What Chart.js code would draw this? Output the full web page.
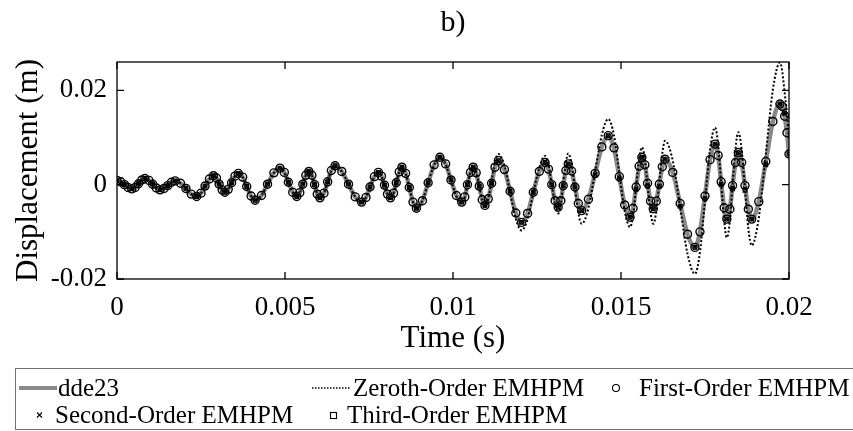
<!DOCTYPE html>
<html>
<head>
<meta charset="utf-8">
<script src="https://cdn.jsdelivr.net/npm/chart.js@4.4.1/dist/chart.umd.min.js"></script>
<style>
  body { margin: 0; background: #fff; }
</style>
</head>
<body>
<canvas id="myChart" width="853" height="431"></canvas>
<script>
const SERIF = "'Liberation Serif', 'Times New Roman', serif";

// time (s), sampled densely along the curves
const time = [
  0, 0.00011, 0.00022, 0.00033, 0.00044, 0.00054, 0.00064, 0.00074, 0.00083, 0.00095,
  0.00106, 0.00117, 0.00128, 0.0014, 0.00151, 0.00162, 0.00173, 0.00189, 0.00205, 0.00221,
  0.00237, 0.0025, 0.00262, 0.00275, 0.00287, 0.00296, 0.00304, 0.00313, 0.00321, 0.00331,
  0.00341, 0.00351, 0.00361, 0.00374, 0.00386, 0.00399, 0.00411, 0.0043, 0.00448, 0.00467,
  0.00485, 0.00498, 0.0051, 0.00523, 0.00535, 0.00544, 0.00553, 0.00562, 0.00571, 0.0058,
  0.00588, 0.00596, 0.00604, 0.00616, 0.00627, 0.00638, 0.00649, 0.00669, 0.00689, 0.00709,
  0.00728, 0.00741, 0.00753, 0.00766, 0.00778, 0.00787, 0.00796, 0.00805, 0.00814, 0.00823,
  0.00831, 0.0084, 0.00848, 0.00859, 0.0087, 0.00881, 0.00891, 0.00909, 0.00926, 0.00944,
  0.00961, 0.00978, 0.00994, 0.0101, 0.01026, 0.01035, 0.01043, 0.01052, 0.0106, 0.01069,
  0.01078, 0.01087, 0.01095, 0.01105, 0.01115, 0.01125, 0.01135, 0.01153, 0.0117, 0.01187,
  0.01204, 0.01222, 0.01239, 0.01257, 0.01274, 0.01284, 0.01294, 0.01304, 0.01313, 0.01321,
  0.01328, 0.01336, 0.01343, 0.01353, 0.01363, 0.01373, 0.01383, 0.01403, 0.01423, 0.01443,
  0.01462, 0.01479, 0.01495, 0.01511, 0.01527, 0.01536, 0.01545, 0.01554, 0.01562, 0.01571,
  0.01579, 0.01588, 0.01596, 0.01605, 0.01614, 0.01623, 0.01631, 0.01654, 0.01676, 0.01698,
  0.0172, 0.01735, 0.0175, 0.01765, 0.0178, 0.01789, 0.01798, 0.01807, 0.01815, 0.01824,
  0.01832, 0.01841, 0.01849, 0.01859, 0.01869, 0.01879, 0.01889, 0.0191, 0.01931, 0.01952,
  0.01973, 0.0198, 0.01987, 0.01994, 0.02
];

// displacement (m)
const dde23 = [
  0.0009, 0.0006, 0.0, -0.0006, -0.0009, -0.0006, 0.0002, 0.001, 0.0013, 0.0009,
  0.0001, -0.0007, -0.0011, -0.0008, -0.0002, 0.0005, 0.0008, 0.0003, -0.0008, -0.002,
  -0.0025, -0.0018, -0.0003, 0.0012, 0.0019, 0.0014, 0.0001, -0.0011, -0.0016, -0.001,
  0.0004, 0.0018, 0.0024, 0.0016, -0.0004, -0.0024, -0.0033, -0.0023, 0.0001, 0.0025,
  0.0035, 0.0026, 0.0005, -0.0016, -0.0025, -0.0017, 0.0001, 0.002, 0.0028, 0.002,
  0.0, -0.002, -0.0028, -0.0018, 0.0006, 0.003, 0.004, 0.0028, 0.0001, -0.0026,
  -0.0037, -0.0027, -0.0005, 0.0017, 0.0026, 0.0018, -0.0001, -0.002, -0.0028, -0.0018,
  0.0004, 0.0027, 0.0037, 0.0024, -0.0006, -0.0037, -0.005, -0.0034, 0.0004, 0.0042,
  0.0058, 0.0044, 0.001, -0.0023, -0.0037, -0.0026, 0.0, 0.0026, 0.0037, 0.0025,
  -0.0003, -0.0032, -0.0044, -0.003, 0.0003, 0.0037, 0.0051, 0.0032, -0.0014, -0.006,
  -0.008, -0.0061, -0.0016, 0.0028, 0.0047, 0.0033, 0.0, -0.0034, -0.0048, -0.0034,
  -0.0002, 0.003, 0.0044, 0.0029, -0.0005, -0.004, -0.0055, -0.0031, 0.0024, 0.008,
  0.0104, 0.0078, 0.0017, -0.0043, -0.0069, -0.005, -0.0005, 0.0039, 0.0058, 0.0042,
  0.0003, -0.0035, -0.0051, -0.0035, 0.0001, 0.0038, 0.0054, 0.0026, -0.004, -0.0105,
  -0.0133, -0.01, -0.0024, 0.0053, 0.0086, 0.0062, 0.0006, -0.0049, -0.0073, -0.0052,
  -0.0002, 0.0047, 0.0068, 0.0047, -0.0002, -0.0052, -0.0073, -0.0036, 0.0049, 0.0134,
  0.0171, 0.0166, 0.0145, 0.011, 0.0065
];

const zerothOrder = [
  0.0009, 0.0006, 0.0, -0.0006, -0.0009, -0.0006, 0.0002, 0.001, 0.0013, 0.0009,
  0.0001, -0.0007, -0.0011, -0.0008, -0.0002, 0.0005, 0.0008, 0.0003, -0.0008, -0.002,
  -0.0025, -0.0018, -0.0003, 0.0012, 0.0019, 0.0014, 0.0001, -0.0011, -0.0016, -0.001,
  0.0004, 0.0018, 0.0024, 0.0016, -0.0004, -0.0024, -0.0033, -0.0023, 0.0001, 0.0025,
  0.0035, 0.0026, 0.0005, -0.0016, -0.0025, -0.0017, 0.0001, 0.002, 0.0028, 0.002,
  0.0, -0.002, -0.0028, -0.0018, 0.0006, 0.003, 0.004, 0.0028, 0.0001, -0.0026,
  -0.0037, -0.0027, -0.0005, 0.0017, 0.0026, 0.0018, -0.0001, -0.002, -0.0028, -0.0018,
  0.0004, 0.0027, 0.0037, 0.0024, -0.0006, -0.0037, -0.005, -0.0034, 0.0004, 0.0042,
  0.0058, 0.0043, 0.0009, -0.0025, -0.004, -0.0028, 0.0, 0.0028, 0.004, 0.0027,
  -0.0003, -0.0034, -0.0047, -0.003, 0.0009, 0.0048, 0.0065, 0.0041, -0.0016, -0.0073,
  -0.0097, -0.0073, -0.0018, 0.0037, 0.0061, 0.0043, 0.0, -0.0043, -0.0061, -0.0042,
  0.0002, 0.0047, 0.0066, 0.0044, -0.0008, -0.006, -0.0083, -0.005, 0.0028, 0.0106,
  0.0139, 0.0105, 0.0025, -0.0056, -0.009, -0.0065, -0.0005, 0.0054, 0.0079, 0.0055,
  -0.0002, -0.0059, -0.0083, -0.0057, 0.0005, 0.0067, 0.0093, 0.0051, -0.0048, -0.0147,
  -0.0189, -0.0143, -0.0034, 0.0075, 0.0121, 0.0086, 0.0004, -0.0077, -0.0112, -0.0078,
  0.0, 0.0078, 0.0111, 0.0075, -0.0009, -0.0093, -0.0129, -0.0071, 0.0065, 0.0201,
  0.0259, 0.024, 0.0195, 0.015, 0.0095
];

const firstOrder = dde23;

// the second and third order markers sit on a coarser time grid
const timeCoarse = [
  0, 0.00022, 0.00044, 0.00064, 0.00083, 0.00106, 0.00128, 0.00151, 0.00173, 0.00205,
  0.00237, 0.00262, 0.00287, 0.00304, 0.00321, 0.00341, 0.00361, 0.00386, 0.00411, 0.00448,
  0.00485, 0.0051, 0.00535, 0.00553, 0.00571, 0.00588, 0.00604, 0.00627, 0.00649, 0.00689,
  0.00728, 0.00753, 0.00778, 0.00796, 0.00814, 0.00831, 0.00848, 0.0087, 0.00891, 0.00926,
  0.00961, 0.00994, 0.01026, 0.01043, 0.0106, 0.01078, 0.01095, 0.01115, 0.01135, 0.0117,
  0.01204, 0.01239, 0.01274, 0.01294, 0.01313, 0.01328, 0.01343, 0.01363, 0.01383, 0.01423,
  0.01462, 0.01495, 0.01527, 0.01545, 0.01562, 0.01579, 0.01596, 0.01614, 0.01631, 0.01676,
  0.0172, 0.0175, 0.0178, 0.01798, 0.01815, 0.01832, 0.01849, 0.01869, 0.01889, 0.01931,
  0.01973, 0.01987, 0.02
];

const secondOrder = [
  0.0009, 0.0, -0.0009, 0.0002, 0.0013, 0.0001, -0.0011, -0.0002, 0.0008, -0.0008,
  -0.0025, -0.0003, 0.0019, 0.0001, -0.0016, 0.0004, 0.0024, -0.0004, -0.0033, 0.0001,
  0.0035, 0.0005, -0.0025, 0.0001, 0.0028, 0.0, -0.0028, 0.0006, 0.004, 0.0001,
  -0.0037, -0.0005, 0.0026, -0.0001, -0.0028, 0.0004, 0.0037, -0.0006, -0.005, 0.0004,
  0.0058, 0.001, -0.0037, 0.0, 0.0037, -0.0003, -0.0044, 0.0003, 0.0051, -0.0014,
  -0.008, -0.0016, 0.0047, 0.0, -0.0048, -0.0002, 0.0044, -0.0005, -0.0055, 0.0022,
  0.0104, 0.0015, -0.0069, -0.0008, 0.0058, 0.0, -0.0051, -0.0002, 0.0054, -0.0045,
  -0.0133, -0.0028, 0.0086, 0.0002, -0.0073, -0.0006, 0.0068, -0.0008, -0.0073, 0.0045,
  0.0171, 0.015, 0.0065
];

const thirdOrder = [
  0.0009, 0.0, -0.0009, 0.0002, 0.0013, 0.0001, -0.0011, -0.0002, 0.0008, -0.0008,
  -0.0025, -0.0003, 0.0019, 0.0001, -0.0016, 0.0004, 0.0024, -0.0004, -0.0033, 0.0001,
  0.0035, 0.0005, -0.0025, 0.0001, 0.0028, 0.0, -0.0028, 0.0006, 0.004, 0.0001,
  -0.0037, -0.0005, 0.0026, -0.0001, -0.0028, 0.0004, 0.0037, -0.0006, -0.005, 0.0004,
  0.0058, 0.001, -0.0037, 0.0, 0.0037, -0.0003, -0.0044, 0.0003, 0.0051, -0.0014,
  -0.008, -0.0016, 0.0047, 0.0, -0.0048, -0.0002, 0.0044, -0.0005, -0.0055, 0.002,
  0.0104, 0.0012, -0.0069, -0.001, 0.0058, -0.0003, -0.0051, -0.0004, 0.0054, -0.0046,
  -0.0133, -0.003, 0.0086, 0.0, -0.0073, -0.0009, 0.0068, -0.0012, -0.0073, 0.0042,
  0.0171, 0.0152, 0.0065
];

const xTicks = [0, 0.005, 0.01, 0.015, 0.02];
const xTickLabels = ["0", "0.005", "0.01", "0.015", "0.02"];
const yTicks = [-0.02, 0, 0.02];
const yTickLabels = ["-0.02", "0", "0.02"];

function toPoints(t, values) {
  return values.map((v, i) => ({ x: t[i], y: v }));
}

// box around the axes with inward ticks on all four sides
const frameTicks = {
  id: "frameTicks",
  afterDraw(chart) {
    const { ctx, chartArea: a, scales } = chart;
    const len = 7;
    ctx.save();
    ctx.strokeStyle = "#000";
    ctx.lineWidth = 1.3;
    ctx.strokeRect(a.left, a.top, a.right - a.left, a.bottom - a.top);
    ctx.beginPath();
    scales.x.ticks.forEach((t) => {
      const px = scales.x.getPixelForValue(t.value);
      ctx.moveTo(px, a.bottom);
      ctx.lineTo(px, a.bottom - len);
      ctx.moveTo(px, a.top);
      ctx.lineTo(px, a.top + len);
    });
    scales.y.ticks.forEach((t) => {
      const py = scales.y.getPixelForValue(t.value);
      ctx.moveTo(a.left, py);
      ctx.lineTo(a.left + len, py);
      ctx.moveTo(a.right, py);
      ctx.lineTo(a.right - len, py);
    });
    ctx.stroke();
    ctx.restore();
  },
};

// MATLAB style legend box below the axes
const bottomLegend = {
  id: "bottomLegend",
  afterDraw(chart) {
    const ctx = chart.ctx;
    const ds = chart.data.datasets;
    const row1 = 388;
    const row2 = 415;
    ctx.save();
    ctx.strokeStyle = "#707070";
    ctx.lineWidth = 1;
    ctx.strokeRect(15.5, 368.5, 840, 61);

    ctx.font = "25px " + SERIF;
    ctx.fillStyle = "#000";
    ctx.textBaseline = "middle";
    ctx.textAlign = "left";

    // dde23
    ctx.strokeStyle = "#8a8a8a";
    ctx.lineWidth = 4;
    ctx.beginPath();
    ctx.moveTo(19, row1);
    ctx.lineTo(57, row1);
    ctx.stroke();
    ctx.fillText(ds[0].label, 58, row1 + 1);

    // zeroth
    ctx.strokeStyle = "#000";
    ctx.lineWidth = 1.3;
    ctx.setLineDash([1.5, 1.5]);
    ctx.beginPath();
    ctx.moveTo(312, row1);
    ctx.lineTo(350, row1);
    ctx.stroke();
    ctx.setLineDash([]);
    ctx.fillText(ds[1].label, 353, row1 + 1);

    // first
    ctx.lineWidth = 1.1;
    ctx.beginPath();
    ctx.arc(616, row1, 3.5, 0, Math.PI * 2);
    ctx.stroke();
    ctx.fillText(ds[2].label, 639, row1 + 1);

    // second
    ctx.beginPath();
    ctx.moveTo(37, row2 - 2.5);
    ctx.lineTo(42, row2 + 2.5);
    ctx.moveTo(42, row2 - 2.5);
    ctx.lineTo(37, row2 + 2.5);
    ctx.stroke();
    ctx.fillText(ds[3].label, 55, row2 + 1);

    // third
    ctx.strokeRect(330.5, row2 - 2.5, 6, 6);
    ctx.fillText(ds[4].label, 347, row2 + 1);
    ctx.restore();
  },
};

function renderChart() {
  const ctx = document.getElementById("myChart");
  const tickFont = { family: SERIF, size: 27 };
  const titleFont = { family: SERIF, size: 31 };

  new Chart(ctx, {
    type: "line",
    data: {
      datasets: [
        {
          label: "dde23",
          data: toPoints(time, dde23),
          borderColor: "#888888",
          borderWidth: 4.5,
          pointRadius: 0,
          cubicInterpolationMode: "monotone",
          order: 5,
        },
        {
          label: "Zeroth-Order EMHPM",
          data: toPoints(time, zerothOrder),
          borderColor: "#000",
          borderWidth: 2,
          borderDash: [2, 2],
          pointRadius: 0,
          cubicInterpolationMode: "monotone",
          order: 4,
        },
        {
          label: "First-Order EMHPM",
          data: toPoints(time, firstOrder),
          showLine: false,
          pointStyle: "circle",
          pointRadius: 4,
          pointBorderWidth: 1.4,
          pointBorderColor: "#000",
          pointBackgroundColor: "rgba(0,0,0,0)",
          order: 3,
        },
        {
          label: "Second-Order EMHPM",
          data: toPoints(timeCoarse, secondOrder),
          showLine: false,
          pointStyle: "crossRot",
          pointRadius: 2.8,
          pointBorderWidth: 1.2,
          pointBorderColor: "#000",
          order: 2,
        },
        {
          label: "Third-Order EMHPM",
          data: toPoints(timeCoarse, thirdOrder),
          showLine: false,
          pointStyle: "rect",
          pointRadius: 2.6,
          pointBorderWidth: 1.2,
          pointBorderColor: "#000",
          pointBackgroundColor: "rgba(0,0,0,0)",
          order: 1,
        },
      ],
    },
    options: {
      responsive: false,
      animation: false,
      devicePixelRatio: 1,
      layout: { padding: { left: 0, right: 64, top: 0, bottom: 74 } },
      plugins: {
        legend: { display: false },
        tooltip: { enabled: false },
        title: {
          display: true,
          fullSize: false,
          text: "b)",
          color: "#000",
          font: { family: SERIF, size: 30, weight: "normal" },
          padding: { top: 5, bottom: 21 },
        },
      },
      scales: {
        x: {
          type: "linear",
          min: 0,
          max: 0.02,
          afterBuildTicks: (s) => {
            s.ticks = xTicks.map((v) => ({ value: v }));
          },
          afterFit: (s) => {
            s.height = 78;
          },
          grid: { display: false, drawTicks: false },
          border: { display: false },
          ticks: {
            autoSkip: false,
            maxRotation: 0,
            padding: 13,
            color: "#000",
            font: tickFont,
            callback: (v, i) => xTickLabels[i],
          },
          title: {
            display: true,
            text: "Time (s)",
            color: "#000",
            font: titleFont,
            padding: { top: 0, bottom: 0 },
          },
        },
        y: {
          min: -0.02,
          max: 0.026,
          afterBuildTicks: (s) => {
            s.ticks = yTicks.map((v) => ({ value: v }));
          },
          afterFit: (s) => {
            s.width = 117;
          },
          grid: { display: false, drawTicks: false },
          border: { display: false },
          ticks: {
            autoSkip: false,
            padding: 10,
            color: "#000",
            font: tickFont,
            callback: (v, i) => yTickLabels[i],
          },
          title: {
            display: true,
            text: "Displacement (m)",
            color: "#000",
            font: titleFont,
            padding: { top: 10, bottom: 0 },
          },
        },
      },
    },
    plugins: [frameTicks, bottomLegend],
  });
}

renderChart();
</script>
</body>
</html>
